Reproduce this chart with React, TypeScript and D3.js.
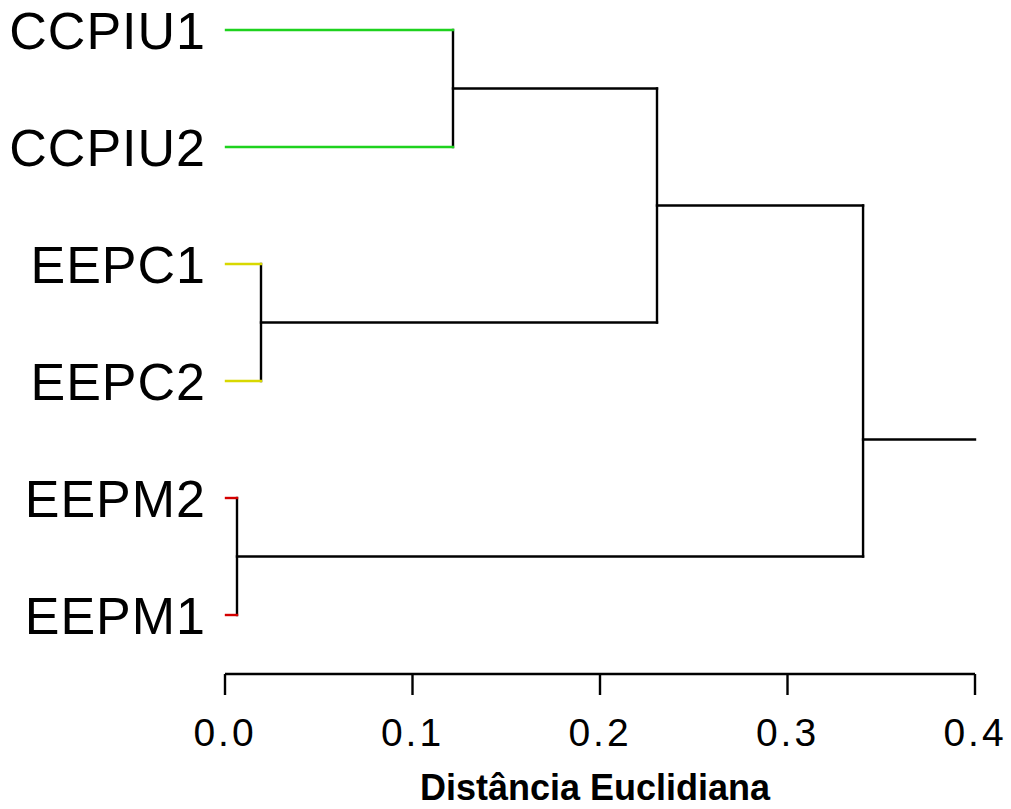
import React from "react";
import * as d3 from "d3";

// Leaves in display order (top to bottom)
const leafLabels = ["CCPIU1", "CCPIU2", "EEPC1", "EEPC2", "EEPM2", "EEPM1"];
const leafColors = ["#1ed21e", "#1ed21e", "#d8d800", "#d8d800", "#d40000", "#d40000"];
// R-style merge matrix: negative = leaf (1-based), positive = earlier merge (1-based)
const mergePairs: [number, number][] = [
  [-1, -2],
  [-3, -4],
  [-5, -6],
  [1, 2],
  [4, 3],
];
const mergeHeights = [0.1216, 0.0192, 0.0064, 0.2304, 0.3403];
const rootEdgeEnd = 0.4;
const rootEdgePos = 3.5;
const xTicks = [0.0, 0.1, 0.2, 0.3, 0.4];
const xTitle = "Distância Euclidiana";

const W = 1011;
const H = 809;
const FONT = "'Liberation Sans', Arial, Helvetica, sans-serif";

export default function App() {
  const x = d3.scaleLinear().domain([0, 0.4]).range([225, 975]);
  const y = d3.scaleLinear().domain([0, leafLabels.length - 1]).range([30, 615]);

  const mergePos: number[] = [];
  const nodePos = (id: number) => (id < 0 ? -id - 1 : mergePos[id - 1]);
  const nodeH = (id: number) => (id < 0 ? 0 : mergeHeights[id - 1]);
  mergePairs.forEach(([a, b]) => {
    mergePos.push((nodePos(a) + nodePos(b)) / 2);
  });

  const segs: { x1: number; y1: number; x2: number; y2: number; c: string }[] = [];
  mergePairs.forEach(([a, b], i) => {
    const h = mergeHeights[i];
    segs.push({ x1: x(h), y1: y(nodePos(a)), x2: x(h), y2: y(nodePos(b)), c: "#000" });
    [a, b].forEach((id) => {
      segs.push({
        x1: x(nodeH(id)) + (id < 0 ? 1 : 0),
        y1: y(nodePos(id)),
        x2: x(h),
        y2: y(nodePos(id)),
        c: id < 0 ? leafColors[-id - 1] : "#000",
      });
    });
  });
  const last = mergeHeights.length - 1;
  segs.push({
    x1: x(mergeHeights[last]),
    y1: y(rootEdgePos),
    x2: x(rootEdgeEnd),
    y2: y(rootEdgePos),
    c: "#000",
  });

  const axisY = 674;

  return (
    <svg width={W} height={H} style={{ position: "absolute", left: 0, top: 0, background: "#fff" }}>
      <rect width={W} height={H} fill="#fff" />
      {segs.map((s, i) => (
        <line key={i} x1={s.x1} y1={s.y1} x2={s.x2} y2={s.y2} stroke={s.c} strokeWidth={2.4} strokeLinecap="square" />
      ))}
      {leafLabels.map((l, i) => (
        <text key={l} x={206} y={y(i) + 19} textAnchor="end" fontFamily={FONT} fontSize={52} letterSpacing={1} fill="#000">
          {l}
        </text>
      ))}
      <line x1={x(0)} x2={x(0.4)} y1={axisY} y2={axisY} stroke="#000" strokeWidth={2.4} />
      {xTicks.map((t) => (
        <g key={t}>
          <line x1={x(t)} x2={x(t)} y1={axisY} y2={695} stroke="#000" strokeWidth={2.4} />
          <text x={x(t)} y={746} textAnchor="middle" fontFamily={FONT} fontSize={39} letterSpacing={3} fill="#000">
            {d3.format(".1f")(t)}
          </text>
        </g>
      ))}
      <text x={595} y={800} textAnchor="middle" fontFamily={FONT} fontSize={36} fontWeight="bold" fill="#000">
        {xTitle}
      </text>
    </svg>
  );
}
